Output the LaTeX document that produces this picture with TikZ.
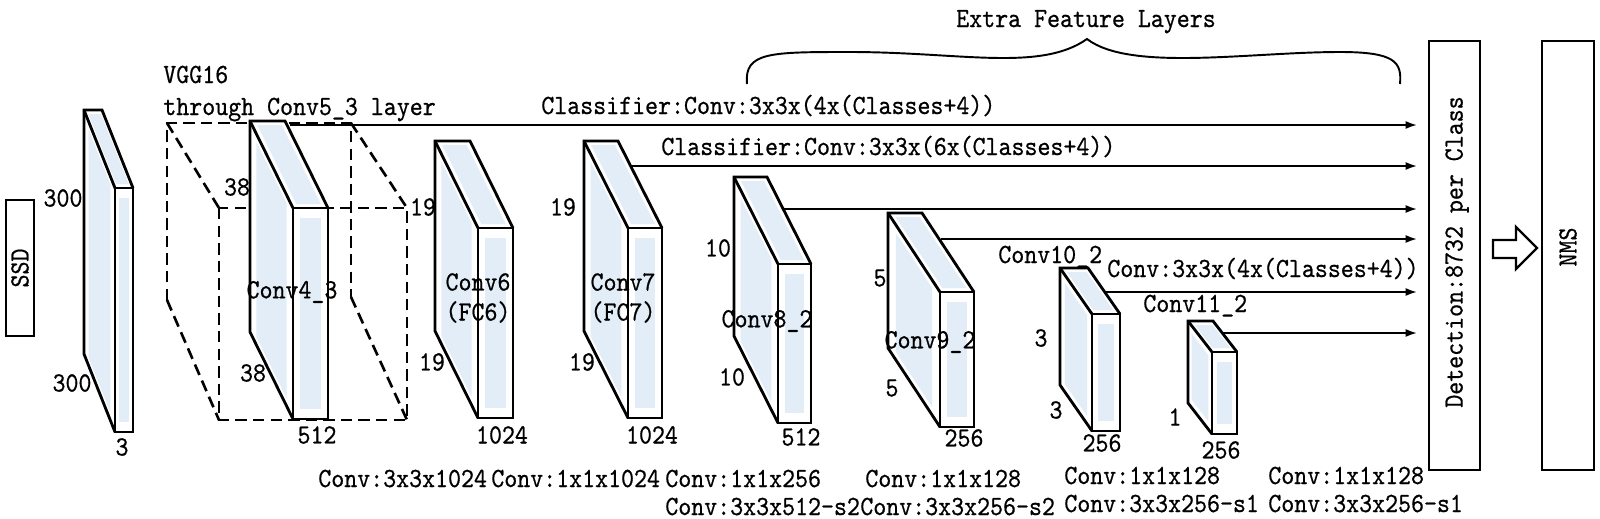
\documentclass[tikz,border=0pt]{standalone}
\usepackage{fontspec}
\setmainfont{lmmono10-regular.otf}[FakeStretch=0.89,FakeBold=0.6]
\usetikzlibrary{arrows.meta,calc}
\definecolor{sb}{RGB}{226,237,247}
\tikzset{
 edge/.style={line width=1.6pt, line join=miter},
 dashedge/.style={line width=1.5pt, dash pattern=on 6.5pt off 3.5pt},
 arr/.style={line width=1.1pt, -{Latex[length=6.5pt,width=4.5pt]}, shorten >=6pt},
 box/.style={draw, line width=1.5pt, inner sep=0pt},
 lbl/.style={inner sep=0pt, font=\fontsize{15.8}{18}\selectfont},
 lw/.style={lbl, anchor=base west},
}
\newcommand\slabfill[7]{%
 \coordinate (#7-ftl) at (#1,#2);
 \coordinate (#7-ftr) at ({#1+#3},#2);
 \coordinate (#7-fbr) at ({#1+#3},{#2+#4});
 \coordinate (#7-fbl) at (#1,{#2+#4});
 \coordinate (#7-btl) at ({#1+(#5)},{#2+(#6)});
 \coordinate (#7-btr) at ({#1+#3+(#5)},{#2+(#6)});
 \coordinate (#7-bbl) at ({#1+(#5)},{#2+#4+(#6)});
 \fill[white] (#7-btl) -- (#7-btr) -- (#7-ftr) -- (#7-fbr) -- (#7-fbl) -- (#7-bbl) -- cycle;
 \pgfmathsetmacro\slM{0.2*#3}
 \fill[sb] ({#1+\slM},{#2+10}) rectangle ({#1+#3-\slM},{#2+#4-10});
 \pgfmathsetmacro\slS{(#6)/(#5)}
 \pgfmathsetmacro\slN{-0.15*(#5)}
 \fill[sb] ({#1+(#5)+\slN},{#2+(#6)+\slS*\slN+8}) -- ({#1-\slN},{#2-\slS*\slN+8})
   -- ({#1-\slN},{#2+#4-\slS*\slN-8}) -- ({#1+(#5)+\slN},{#2+#4+(#6)+\slS*\slN-8}) -- cycle;
 \pgfmathsetmacro\slV{4}
 \fill[sb] ({#1+(#5)+\slV/\slS+0.15*#3},{#2+(#6)+\slV}) -- ({#1+(#5)+#3+\slV/\slS-0.15*#3},{#2+(#6)+\slV})
   -- ({#1+#3-\slV/\slS-0.15*#3},{#2-\slV}) -- ({#1-\slV/\slS+0.15*#3},{#2-\slV}) -- cycle;
}
\newcommand\slabedge[1]{%
 \draw[edge] (#1-ftl) rectangle (#1-fbr);
 \draw[edge] (#1-fbl) -- (#1-bbl) -- (#1-btl) -- (#1-btr) -- (#1-ftr);
 \draw[edge] (#1-btl) -- (#1-ftl);
}
\begin{document}
\begin{tikzpicture}[x=0.02cm,y=-0.02cm]
\useasboundingbox (0,0) rectangle (1600,518);
\fill[white] (0,0) rectangle (1600,518);

% dashed Conv5_3 cube
\draw[dashedge] (167,300) -- (167,123) -- (351,123) -- (351,297);
\draw[dashedge] (219,208) rectangle (407,420);
\draw[dashedge] (167,123) -- (219,208);
\draw[dashedge] (351,123) -- (407,208);
\draw[dashedge] (167,300) -- (219,420);
\draw[dashedge] (351,297) -- (407,420);

% slab fills
\slabfill{115}{188}{18}{244}{-31}{-78}{inp}
\slabfill{293}{208}{35}{211}{-43}{-87}{c43}
\slabfill{478}{228}{35}{190}{-43}{-87}{c6}
\slabfill{628}{228}{34}{190}{-44}{-87}{c7}
\slabfill{778}{264}{33}{159}{-44}{-87}{c82}
\slabfill{940}{292}{34}{135}{-52}{-79}{c92}
\slabfill{1092}{314}{28}{117}{-32}{-46}{c102}
\slabfill{1212}{352}{25}{82}{-24}{-31}{c112}

% inner labels
\node[lbl] (t43) at (292,292) {Conv4\_3};
\node[lbl] (t6a) at (478,282) {Conv6};
\node[lbl] (t6b) at (478,312) {(FC6)};
\node[lbl] (t7a) at (623,282) {Conv7};
\node[lbl] (t7b) at (623,312) {(FC7)};
\node[lbl] (t82) at (767,321) {Conv8\_2};
\node[lbl] (t92) at (930,342) {Conv9\_2};
\node[lw] (t102) at (998,263) {Conv10\_2};
\node[lw] (t112) at (1143,312) {Conv11\_2};

% dimension labels
\node[lbl] (n1) at (63,198) {300};
\node[lbl] (n2) at (72,383) {300};
\node[lbl] (n3) at (122,447) {3};
\node[lbl] (n4) at (237,187) {38};
\node[lbl] (n5) at (253,373) {38};
\node[lbl] (n6) at (317,435) {512};
\node[lbl] (n7) at (423,207) {19};
\node[lbl] (n8) at (432,362) {19};
\node[lbl] (n9) at (502,435) {1024};
\node[lbl] (n10) at (563,207) {19};
\node[lbl] (n11) at (582,362) {19};
\node[lbl] (n12) at (652,435) {1024};
\node[lbl] (n13) at (718,248) {10};
\node[lbl] (n14) at (732,377) {10};
\node[lbl] (n15) at (801,437) {512};
\node[lbl] (n16) at (880,278) {5};
\node[lbl] (n17) at (892,388) {5};
\node[lbl] (n18) at (964,438) {256};
\node[lbl] (n19) at (1041,338) {3};
\node[lbl] (n20) at (1056,410) {3};
\node[lbl] (n21) at (1102,443) {256};
\node[lbl] (n22) at (1175,417) {1};
\node[lbl] (n23) at (1221,450) {256};

% slab edges
\slabedge{inp}
\slabedge{c43}
\slabedge{c6}
\slabedge{c7}
\slabedge{c82}
\slabedge{c92}
\slabedge{c102}
\slabedge{c112}

% top texts
\node[lw] (vgg) at (163,83) {VGG16};
\node[lw] (thr) at (163,115) {through Conv5\_3 layer};
\node[lw] (cl1) at (541,114) {Classifier:Conv:3x3x(4x(Classes+4))};
\node[lw] (cl2) at (661,155) {Classifier:Conv:3x3x(6x(Classes+4))};
\node[lw] (cl3) at (1107,277) {Conv:3x3x(4x(Classes+4))};
\node[lbl, anchor=base] (efl) at (1086,27) {Extra Feature Layers};

% brace
\draw[line width=1.1pt] (747,84) .. controls (744,52) and (770,52) .. (850,52)
  .. controls (960,52) and (1040,72) .. (1087,39)
  .. controls (1130,72) and (1250,52) .. (1340,52)
  .. controls (1395,52) and (1402,62) .. (1400,84);

% bottom texts
\node[lw] (b1) at (318,487) {Conv:3x3x1024};
\node[lw] (b2) at (491,487) {Conv:1x1x1024};
\node[lw] (b3) at (665,487) {Conv:1x1x256};
\node[lw] (b4) at (665,515) {Conv:3x3x512-s2};
\node[lw] (b5) at (865,487) {Conv:1x1x128};
\node[lw] (b6) at (860,515) {Conv:3x3x256-s2};
\node[lw] (b7) at (1064,484) {Conv:1x1x128};
\node[lw] (b8) at (1064,512) {Conv:3x3x256-s1};
\node[lw] (b9) at (1268,484) {Conv:1x1x128};
\node[lw] (b10) at (1268,512) {Conv:3x3x256-s1};

% boxes
\node[box, minimum width=0.56cm, minimum height=2.72cm] (ssd) at (20,268) {};
\node[lbl, rotate=90] (ssdt) at (ssd.center) {SSD};
\node[box, minimum width=1.02cm, minimum height=8.58cm] (det) at (1454.5,255.5) {};
\node[lbl, rotate=90] (dett) at (1457,252) {Detection:8732 per Class};
\node[box, minimum width=1.04cm, minimum height=8.58cm] (nms) at (1568,255.5) {};
\node[lbl, rotate=90] (nmst) at (1568,247) {NMS};

% hollow arrow
\draw[line width=1.3pt, line join=miter] (1493,240) -- (1516,240) -- (1516,227) -- (1537,248)
  -- (1516,269) -- (1516,258) -- (1493,258) -- cycle;

% arrows
\coordinate (a1) at (290,125);
\coordinate (a2) at (631,166);
\coordinate (a3) at (784,209);
\coordinate (a4) at (941,239);
\coordinate (a5) at (1105,292);
\coordinate (a6) at (1222,333);
\foreach \i in {1,...,6} {\draw[arr] (a\i) -- (a\i -| det.west);}
\end{tikzpicture}
\end{document}
